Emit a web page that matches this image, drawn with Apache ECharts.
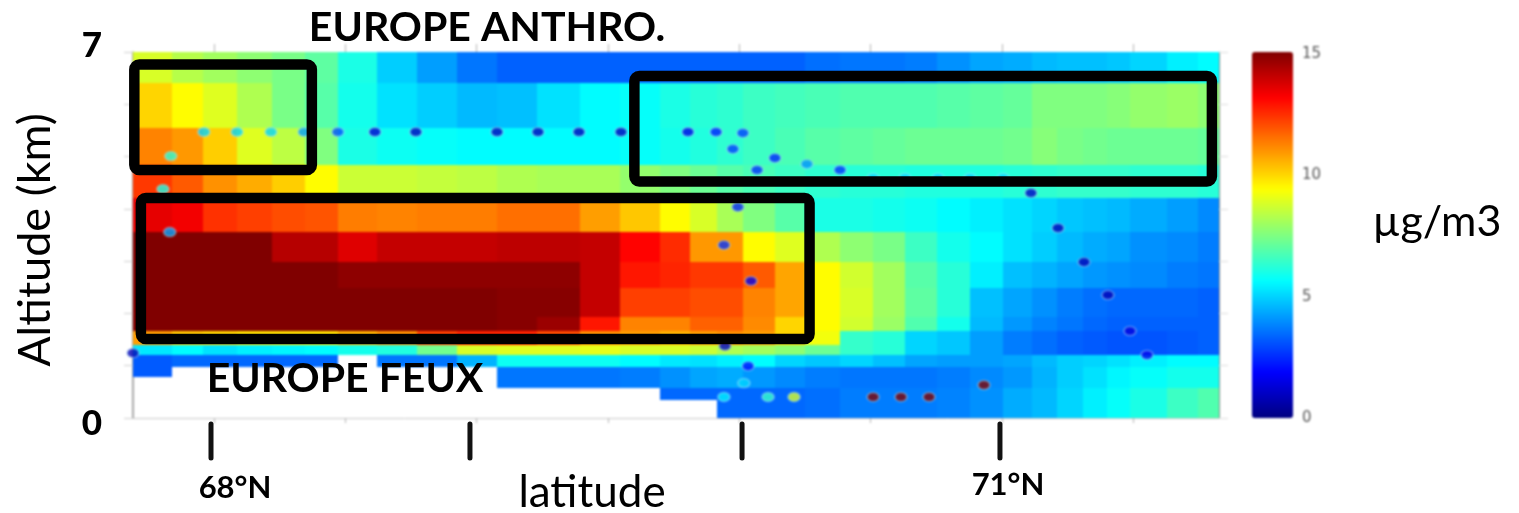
<!DOCTYPE html>
<html><head><meta charset="utf-8">
<style>html,body{margin:0;padding:0;background:#fff}#c{width:1519px;height:513px}#c canvas:first-of-type{filter:blur(1.3px)}</style>
<script src="https://cdn.jsdelivr.net/npm/echarts@6/dist/echarts.min.js"></script>
</head><body><div id="c"></div>
<script>
const latEdges=[67.692,67.840,67.958,68.088,68.221,68.347,68.472,68.621,68.773,68.925,69.078,69.230,69.394,69.546,69.698,69.813,69.915,70.014,70.136,70.251,70.384,70.510,70.631,70.753,70.879,71.005,71.115,71.210,71.309,71.401,71.488,71.629,71.747,71.827];
const altEdges=[7,6.407,5.546,4.838,4.207,3.557,2.983,2.486,1.932,1.664,1.396,1.205,0.975,0.784,0.574,0.344,0];
const _=null;
const row01=[8.8,8.3,8,7.7,7.4,7,6,4.9,4.2,3.6,3.3,3.3,3.3,3.3,3.3,3.3,3.3,3.3,3.3,3.5,3.6,3.6,3.7,4,4.3,4.4,4.6,4.7,4.7,4.8,5,5.4,5.6];
const row02=[10,9.4,8.9,8.2,7.4,6.9,5.9,5.2,4.9,4.6,4.7,5.2,5.6,5.7,6,6.2,6.3,6.5,6.6,6.7,6.8,6.8,6.8,6.9,7,7.1,7.5,7.5,7.5,7.6,7.8,7.9,7.7];
const row03=[11.2,10.9,10.1,8.9,8.4,7.5,6,5.8,5.7,5.6,5.6,5.6,5.6,5.7,5.9,6.1,6.3,6.5,6.7,6.9,7,7.1,7.2,7.2,7.2,7.3,7.6,7.4,7.3,7.2,7.2,7.2,7.1];
const row04=[12.3,11.8,11,10.6,10.1,9.4,8.6,8.6,8.5,8.4,8.2,8.1,8.1,7.8,7.5,7.2,6.9,6.7,6.5,6.3,6.2,6.2,6.1,6.1,6.1,6.2,6.3,6.4,6.4,6.4,6.3,6.3,6.2];
const row05=[13.5,13.3,12.4,12.2,12,11.9,11.3,11.2,11.3,11.3,11.5,11.5,10.8,10.2,9.4,8.8,8.1,7.5,6.9,6,6,5.9,5.8,5.6,5.4,5.2,5,4.8,4.7,4.6,4.4,4.2,3.9];
const row06=[15,15,15,15,14.2,14.2,13.6,14,14,14,14.1,14.1,14,13.1,12.5,10.9,10.9,9.4,8.9,8.2,7.7,7.4,6.5,5.9,5.6,5.2,4.9,4.6,4.4,4.3,4,3.9,3.7];
const row07=[15,15,15,15,15,15,14.8,14.8,14.8,14.8,14.8,14.8,14,12.8,12.6,12.3,12.3,11.8,10.7,9.4,8.7,8,6.9,6.2,5.4,4.7,4.5,4.3,4.1,4,3.9,3.7,3.6];
const row08=[15,15,15,15,15,15,15,15,15,15,14.9,14.9,14,12.2,12.2,12,12,11.2,10.7,9.4,8.8,8,7,6.2,4.7,4.3,4,3.7,3.5,3.4,3.4,3.4,3.3];
const row09=[15,15,15,15,15,15,15,15,15,15,14.9,14.6,12.8,11.2,11.2,11.7,11.7,11.1,10,9.4,8.7,7.9,6.8,5.9,4.6,4.1,3.8,3.6,3.4,3.3,3.3,3.3,3.3];
const row10=[10.8,10.2,10,9.8,9.8,9.8,10.5,11,12.2,12.6,12.6,12,11,10.8,10.5,10.8,11,10.8,10,9.2,6.4,6.2,5,4.8,4.2,3.7,3.5,3.3,3.2,3.1,3.1,3.2,3.3];
const row11=[5.3,5.6,5.2,5.4,5.5,5.6,5.9,6.1,7.3,8.8,8.9,8.9,9,8.8,8.8,8.6,8.2,8,7.7,7.2,6.4,6.2,5,4.8,4.2,3.7,3.5,3.3,3.2,3.1,3.1,3.2,3.3];
const row12=[3.2,3.4,3.4,3.4,3.4,3.4,_,3.6,3.6,4.5,5.8,5.8,5.8,5.6,5.3,5.2,5.4,5.6,5,4.8,5,4.7,4.3,4.2,4.2,4.3,4.6,4.9,5,5.2,5.4,5.6,5.6];
const row13=[3.2,_,_,_,_,_,_,_,_,_,3.6,3.6,3.6,3.7,4,4.3,4.4,4.1,3.9,3.7,3.6,3.6,3.6,3.7,3.9,4.1,4.5,4.9,5.2,5.5,5.7,5.9,5.9];
const row14=[_,_,_,_,_,_,_,_,_,_,3.6,3.6,3.6,3.7,4,4.3,4.4,4.1,3.9,3.7,3.6,3.6,3.6,3.7,3.9,4.1,4.5,4.9,5.2,5.5,5.7,5.9,5.9];
const row15=[_,_,_,_,_,_,_,_,_,_,_,_,_,_,3.4,3.4,3.4,3.4,3.4,3.5,3.7,3.7,3.7,3.8,4,4.4,4.6,5,5.4,5.7,6,6.5,6.8];
const row16=[_,_,_,_,_,_,_,_,_,_,_,_,_,_,_,_,3.4,3.4,3.4,3.5,3.7,3.7,3.7,3.8,4,4.4,4.6,5,5.4,5.7,6,6.5,6.8];
const rows=[row01,row02,row03,row04,row05,row06,row07,row08,row09,row10,row11,row12,row13,row14,row15,row16];

const dotLat=[67.692,67.836,67.806,67.832,67.962,68.088,68.217,68.343,68.472,68.613,68.769,69.078,69.234,69.390,69.550,69.805,69.912,70.014,69.976,70.136,70.068,70.258,70.384,70.510,70.631,70.757,70.879,71.005,71.111,71.214,71.313,71.404,71.488,71.553,69.995,69.942,70.045,69.946,70.034,70.018,69.942,70.110,70.209,70.510,70.616,70.723,70.932];
const dotAlt=[1.243,5.01,4.379,3.557,5.47,5.47,5.47,5.47,5.47,5.47,5.47,5.47,5.47,5.47,5.47,5.47,5.47,5.45,5.144,4.972,4.743,4.857,4.743,4.59,4.59,4.59,4.59,4.59,4.303,3.634,2.983,2.352,1.664,1.205,4.035,3.308,2.62,1.377,0.994,0.669,0.402,0.402,0.402,0.402,0.402,0.402,0.631];
const dotVal=[0.8,6.2,6,4.3,5,5,5,4.2,3,1.2,0.9,0.9,0.9,0.9,0.9,1.5,2.3,2.8,2.8,2.4,2.6,4,2.6,5,5,5,5,5,1,0.8,0.8,0.8,1.4,1.6,2.4,2.6,1.6,1,2,5,5.4,6.4,8.8,15,15,15,15];

const boxLat0=[67.697,69.601,67.722], boxLat1=[68.373,71.800,70.268];
const boxAlt0=[4.743,4.523,1.511], boxAlt1=[6.76,6.541,4.207];
const latTicks=[68,68.5,69,69.5,70,70.5,71,71.5];
const guideLat=[67.989,68.975,70.011,70.993];
const guideTop=-0.115, guideBottom=-0.765;
const altTicks=[0,7];
const barTicks=[0,5,10,15];
const jet=['#000080','#0000ff','#0080ff','#00ffff','#80ff80','#ffff00','#ff8000','#ff0000','#800000'];

const cells=[];
rows.forEach((r,i)=>r.forEach((v,j)=>{ if(v!==null) cells.push([latEdges[j],latEdges[j+1],altEdges[i+1],altEdges[i],v]); }));
const dots=dotLat.map((la,i)=>[la,dotAlt[i],0,0,dotVal[i]]);
const boxes=boxLat0.map((la,i)=>[la,boxLat1[i],boxAlt0[i],boxAlt1[i]]);
const guides=guideLat.map(la=>[la,guideTop,guideBottom]);
const F='Lato, "Open Sans", sans-serif';
const faint='#b4b4b4';
function txt(x,y,t,size,bold,extra){return Object.assign({type:'text',x,y,z:50,zlevel:1,style:{text:t,font:(bold?'bold ':'')+size+'px '+F,fill:'#000',align:'center',verticalAlign:'middle'}},extra||{});}

const chart=echarts.init(document.getElementById('c'),null,{renderer:'canvas'});
chart.setOption({
 animation:false,backgroundColor:'#fff',
 grid:[{left:133,top:52,width:1086,height:366,show:false},
       {left:133,top:46,width:1086,height:378,show:false},
       {left:1252,top:54,width:41,height:364,show:false}],
 xAxis:[
  {gridIndex:0,type:'value',min:67.692,max:71.827,position:'bottom',zlevel:0,splitLine:{show:false},axisLabel:{show:false},
   axisLine:{show:true,onZero:false,lineStyle:{color:'#c8c8c8',width:1}},axisTick:{show:true,customValues:latTicks,length:5,lineStyle:{color:faint}}},
  {gridIndex:0,type:'value',min:67.692,max:71.827,position:'top',zlevel:0,splitLine:{show:false},axisLabel:{show:false},
   axisLine:{show:true,onZero:false,lineStyle:{color:'#c8c8c8',width:1}},axisTick:{show:true,customValues:latTicks,length:8,lineStyle:{color:faint}}},
  {gridIndex:1,type:'value',min:0,max:1,show:false},
  {gridIndex:2,type:'value',min:0,max:1,show:false}
 ],
 yAxis:[
  {gridIndex:0,type:'value',min:0,max:7,interval:1,position:'left',zlevel:0,splitLine:{show:false},axisLabel:{show:false},
   axisLine:{show:true,onZero:false,lineStyle:{color:'#8c8c8c',width:1.5}},axisTick:{show:true,length:9,lineStyle:{color:'#d0d0d0'}}},
  {gridIndex:0,type:'value',min:0,max:7,interval:1,position:'right',zlevel:0,splitLine:{show:false},axisLabel:{show:false},
   axisLine:{show:true,onZero:false,lineStyle:{color:'#8c8c8c',width:1}},axisTick:{show:true,length:9,lineStyle:{color:'#ddd'}}},
  {gridIndex:1,type:'value',min:0,max:7,position:'left',zlevel:1,splitLine:{show:false},axisLine:{show:false},axisTick:{show:false},
   axisLabel:{show:true,customValues:altTicks,margin:31,fontFamily:'Lato',fontWeight:900,fontSize:35,color:'#000'}},
  {gridIndex:2,type:'value',min:0,max:15,position:'right',zlevel:0,splitLine:{show:false},axisLine:{show:false},axisTick:{show:false},
   axisLabel:{show:true,customValues:barTicks,margin:9,fontFamily:'"DejaVu Sans", sans-serif',fontSize:15,color:'#555'}}
 ],
 visualMap:{type:'continuous',min:0,max:15,seriesIndex:[0,1],dimension:4,calculable:false,show:true,realtime:false,zlevel:0,
   left:1252,top:52,itemWidth:41,itemHeight:366,text:['',''],showLabel:false,inRange:{color:jet},hoverLink:false,padding:0,borderWidth:0},
 series:[
  {type:'custom',xAxisIndex:0,yAxisIndex:0,data:cells,encode:{x:[0,1],y:[2,3]},z:2,zlevel:0,silent:true,clip:true,
   renderItem(p,api){
     const a=api.coord([api.value(0),api.value(3)]), b=api.coord([api.value(1),api.value(2)]);
     const x=Math.round(a[0]),y=Math.round(a[1]);
     return {type:'rect',shape:{x,y,width:Math.round(b[0])-x,height:Math.round(b[1])-y},style:{fill:api.visual('color')}};
   }},
  {type:'scatter',xAxisIndex:0,yAxisIndex:0,data:dots,encode:{x:0,y:1},z:3,zlevel:0,silent:true,clip:false,symbol:'circle',symbolSize:[12,9],
   itemStyle:{borderColor:'rgba(190,235,250,0.55)',borderWidth:1.5}},
  {type:'custom',xAxisIndex:0,yAxisIndex:0,data:boxes,encode:{x:[0,1],y:[2,3]},z:4,zlevel:1,silent:true,clip:false,
   renderItem(p,api){
     const a=api.coord([api.value(0),api.value(3)]), b=api.coord([api.value(1),api.value(2)]);
     return {type:'rect',shape:{x:a[0],y:a[1],width:b[0]-a[0],height:b[1]-a[1],r:5},style:{fill:'none',stroke:'#000',lineWidth:10.5}};
   }},
  {type:'custom',xAxisIndex:0,yAxisIndex:0,data:guides,encode:{x:0,y:[1,2]},z:4,zlevel:1,silent:true,clip:false,
   renderItem(p,api){
     const a=api.coord([api.value(0),api.value(1)]), b=api.coord([api.value(0),api.value(2)]);
     return {type:'line',shape:{x1:a[0],y1:a[1],x2:b[0],y2:b[1]},style:{stroke:'#111',lineWidth:5,lineCap:'round'}};
   }}
 ],
 graphic:[
  txt(487,28,'EUROPE ANTHRO.',41,true),
  txt(345,379,'EUROPE FEUX',41,true),
  txt(235,488,'68°N',31,true),
  txt(1008,485,'71°N',31,true),
  txt(592,493,'latitude',44,false),
  txt(1437,222,'µg/m3',43,false),
  txt(35,240,'Altitude (km)',45,false,{rotation:Math.PI/2})
 ]
});
</script></body></html>
